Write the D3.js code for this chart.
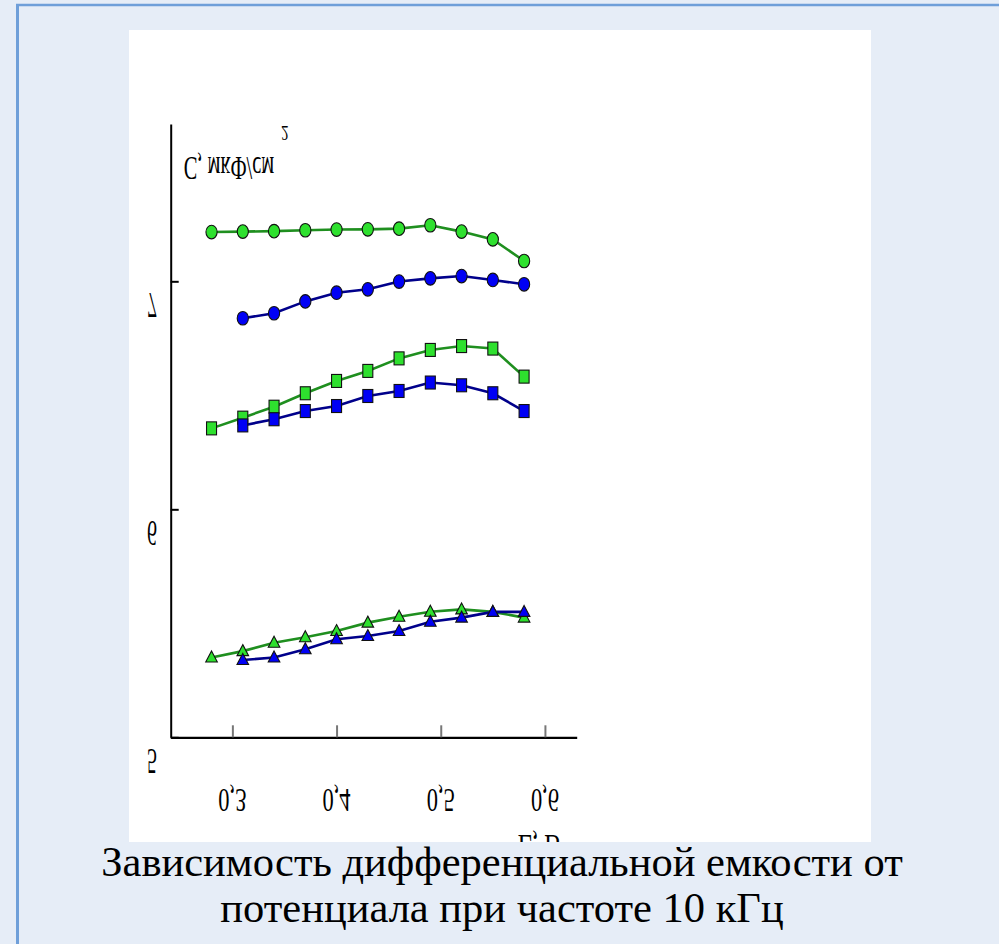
<!DOCTYPE html>
<html>
<head>
<meta charset="utf-8">
<script src="https://cdn.jsdelivr.net/npm/d3@7"></script>
<style>
  html, body { margin: 0; padding: 0; background: #e6edf7; }
  svg { display: block; }
  .serif { font-family: "Liberation Serif", "Times New Roman", Times, "DejaVu Serif", serif; }
</style>
</head>
<body>
<svg id="chart" width="999" height="944"></svg>
<script>
// Potential, -E (V)
const potentials = [0.28, 0.31, 0.34, 0.37, 0.40, 0.43, 0.46, 0.49, 0.52, 0.55, 0.58];
// Differential capacitance, C
const greenCircles  = [7.216, 7.218, 7.220, 7.224, 7.227, 7.228, 7.231, 7.246, 7.218, 7.184, 7.089];
const blueCircles   = [null, 6.838, 6.860, 6.912, 6.950, 6.965, 6.999, 7.013, 7.023, 7.006, 6.987];
const greenSquares  = [6.355, 6.402, 6.450, 6.509, 6.563, 6.607, 6.662, 6.699, 6.716, 6.705, 6.582];
const blueSquares   = [null, 6.368, 6.395, 6.431, 6.453, 6.497, 6.519, 6.556, 6.544, 6.509, 6.431];
const greenTriangles = [5.350, 5.378, 5.415, 5.439, 5.466, 5.503, 5.529, 5.551, 5.561, 5.550, 5.525];
const blueTriangles  = [null, 5.339, 5.350, 5.386, 5.430, 5.444, 5.466, 5.507, 5.525, 5.550, 5.550];

const xTicks = [0.3, 0.4, 0.5, 0.6];
const xTickLabels = ["0,3", "0,4", "0,5", "0,6"];
const yTicks = [5, 6, 7];
const yTickLabels = ["5", "6", "7"];
const xExtent = [0.2408, 0.6305];
const yExtent = [5, 7.69];
const xTitle = "-E, В";
const yTitle = "C, мкФ/см";
const yTitleSup = "2";
const captionLines = ["Зависимость дифференциальной емкости от", "потенциала при частоте 10 кГц"];

const svg = d3.select("#chart");

// slide frame
svg.append("line").attr("x1", 16).attr("x2", 999).attr("y1", 5).attr("y2", 5)
  .attr("stroke", "#6f9fd9").attr("stroke-width", 2.5);
svg.append("line").attr("x1", 17.5).attr("x2", 17.5).attr("y1", 4).attr("y2", 944)
  .attr("stroke", "#6f9fd9").attr("stroke-width", 3);

// white picture panel
const panel = { x: 129, y: 30, w: 742, h: 812 };
svg.append("defs").append("clipPath").attr("id", "panelClip")
  .append("rect").attr("x", panel.x).attr("y", panel.y).attr("width", panel.w).attr("height", panel.h);
svg.append("rect").attr("x", panel.x).attr("y", panel.y).attr("width", panel.w).attr("height", panel.h)
  .attr("fill", "#ffffff");

const g = svg.append("g").attr("clip-path", "url(#panelClip)");

const x = d3.scaleLinear().domain(xExtent).range([170.7, 576.7]);
const y = d3.scaleLinear().domain(yExtent).range([737.3, 124]);

// x axis
const xAxis = g.append("g").attr("transform", `translate(0,${y(yExtent[0])})`)
  .call(d3.axisBottom(x).tickValues(xTicks).tickSize(-12).tickSizeOuter(0).tickFormat(""));
xAxis.select(".domain").attr("stroke", "#000").attr("stroke-width", 2.2);
xAxis.selectAll(".tick line").attr("stroke", "#777").attr("stroke-width", 2);

// y axis
const yAxis = g.append("g").attr("transform", `translate(${x(xExtent[0])},0)`)
  .call(d3.axisLeft(y).tickValues(yTicks).tickSize(-8).tickSizeOuter(0).tickFormat(""));
yAxis.select(".domain").attr("stroke", "#000").attr("stroke-width", 2);
yAxis.selectAll(".tick line").attr("stroke", "#000").attr("stroke-width", 2);

// labels are printed mirrored top-to-bottom
function flippedText(parent, tx, ty, str, size, sx) {
  return parent.append("text")
    .attr("class", "serif")
    .attr("transform", `translate(${tx},${ty}) scale(${sx},-1)`)
    .attr("dy", "0.33em")
    .attr("text-anchor", "middle")
    .attr("font-size", size)
    .attr("fill", "#000")
    .text(str);
}

xTicks.forEach((v, i) => flippedText(g, x(v), 800, xTickLabels[i], 34, 0.66));
yTicks.forEach((v, i) => flippedText(g, 152, y(v) + 24, yTickLabels[i], 36, 0.55));

flippedText(g, 229, 168, yTitle, 33, 0.62);
flippedText(g, 285, 133, yTitleSup, 22, 0.66);
flippedText(g, 535, 846, xTitle, 34, 0.7);

// series
const series = [
  { values: greenSquares,   line: "#1f8f1f", fill: "#2ee02e", shape: "square" },
  { values: blueSquares,    line: "#00008b", fill: "#0000f5", shape: "square" },
  { values: greenTriangles, line: "#1f8f1f", fill: "#2ee02e", shape: "triangle" },
  { values: blueTriangles,  line: "#00008b", fill: "#0000f5", shape: "triangle" },
  { values: greenCircles,   line: "#1f8f1f", fill: "#2ee02e", shape: "circle" },
  { values: blueCircles,    line: "#00008b", fill: "#0000f5", shape: "circle" }
];

const line = d3.line()
  .defined(d => d[1] != null)
  .x(d => x(d[0]))
  .y(d => y(d[1]));

series.forEach(s => {
  const pts = potentials.map((p, i) => [p, s.values[i]]);
  g.append("path").datum(pts)
    .attr("d", line)
    .attr("fill", "none")
    .attr("stroke", s.line)
    .attr("stroke-width", 2.6);

  const marks = g.append("g").selectAll("g")
    .data(pts.filter(d => d[1] != null))
    .join("g")
    .attr("transform", d => `translate(${x(d[0])},${y(d[1])})`);

  if (s.shape === "circle") {
    marks.append("ellipse").attr("rx", 5.6).attr("ry", 6.8);
  } else if (s.shape === "square") {
    marks.append("rect").attr("x", -5).attr("y", -6.5).attr("width", 10).attr("height", 13);
  } else {
    marks.append("path").attr("d", "M0,-6.5L5.8,4.5L-5.8,4.5Z");
  }
  marks.selectAll("*")
    .attr("fill", s.fill)
    .attr("stroke", "#111")
    .attr("stroke-width", 1.1);
});

// caption under the picture
svg.append("g").selectAll("text")
  .data(captionLines)
  .join("text")
  .attr("class", "serif")
  .attr("x", 502)
  .attr("y", (d, i) => 876 + i * 46)
  .attr("text-anchor", "middle")
  .attr("font-size", 42.5)
  .attr("fill", "#000")
  .text(d => d);
</script>
</body>
</html>
